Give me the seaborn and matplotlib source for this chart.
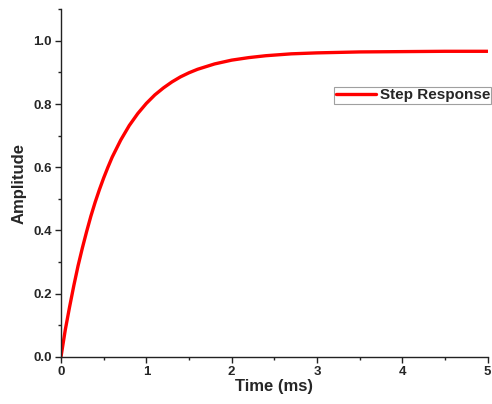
import matplotlib
matplotlib.use("Agg")
import matplotlib.pyplot as plt
import seaborn as sns
import pandas as pd
from matplotlib.ticker import MultipleLocator

time_ms = [0, 0.05, 0.1, 0.15, 0.2, 0.25, 0.3, 0.35, 0.4, 0.45, 0.5, 0.55, 0.6,
           0.7, 0.8, 0.9, 1.0, 1.1, 1.2, 1.3, 1.4, 1.5, 1.6, 1.8, 2.0, 2.2, 2.4,
           2.7, 3.0, 3.5, 4.0, 4.5, 5.0]
amplitude = [0, 0.085, 0.157, 0.225, 0.288, 0.344, 0.396, 0.445, 0.489, 0.529,
             0.566, 0.600, 0.632, 0.686, 0.732, 0.770, 0.802, 0.829, 0.851, 0.870,
             0.886, 0.899, 0.910, 0.927, 0.939, 0.947, 0.953, 0.959, 0.962, 0.965,
             0.966, 0.967, 0.967]
series_name = "Step Response"
x_ticks = [0, 1, 2, 3, 4, 5]
y_ticks = [0.0, 0.2, 0.4, 0.6, 0.8, 1.0]

sns.set_theme(style="white")
plt.rcParams['font.family'] = ['Liberation Sans', 'DejaVu Sans']

df = pd.DataFrame({"Time (ms)": time_ms, "Amplitude": amplitude, "series": series_name})

fig = plt.figure(figsize=(4.92, 4.04), dpi=100)
ax = fig.add_axes([0.124, 0.117, 0.867, 0.86])

sns.lineplot(data=df, x="Time (ms)", y="Amplitude", hue="series",
             palette=["#ff0000"], linewidth=2.4, ax=ax, estimator=None, sort=True)

ax.set_xlim(0, 5)
ax.set_ylim(0, 1.1)
ax.set_xticks(x_ticks)
ax.set_yticks(y_ticks)
ax.set_xticklabels([str(v) for v in x_ticks], fontweight="bold", fontsize=9.5)
ax.set_yticklabels([f"{v:.1f}" for v in y_ticks], fontweight="bold", fontsize=9.5)
ax.xaxis.set_minor_locator(MultipleLocator(0.5))
ax.yaxis.set_minor_locator(MultipleLocator(0.1))
ax.tick_params(axis="both", which="major", direction="out", length=4, width=1,
               color="#222222", pad=2.5, bottom=True, left=True)
ax.tick_params(axis="both", which="minor", direction="out", length=2.5, width=1,
               color="#222222", bottom=True, left=True)
for side in ["top", "right"]:
    ax.spines[side].set_visible(False)
for side in ["left", "bottom"]:
    ax.spines[side].set_color("#222222")
    ax.spines[side].set_linewidth(1)

ax.set_xlabel("Time (ms)", fontweight="bold", fontsize=12, labelpad=1)
ax.set_ylabel("Amplitude", fontweight="bold", fontsize=12, labelpad=5)

leg = ax.legend(loc="upper right", bbox_to_anchor=(1.009, 0.777), frameon=True,
                fancybox=False, fontsize=11, handlelength=2.6, borderpad=0.1,
                handletextpad=0.25, borderaxespad=0)
for t in leg.get_texts():
    t.set_fontweight("bold")
leg.get_frame().set_edgecolor("#888888")
leg.get_frame().set_linewidth(0.8)

fig.savefig("out.png", dpi=100)
